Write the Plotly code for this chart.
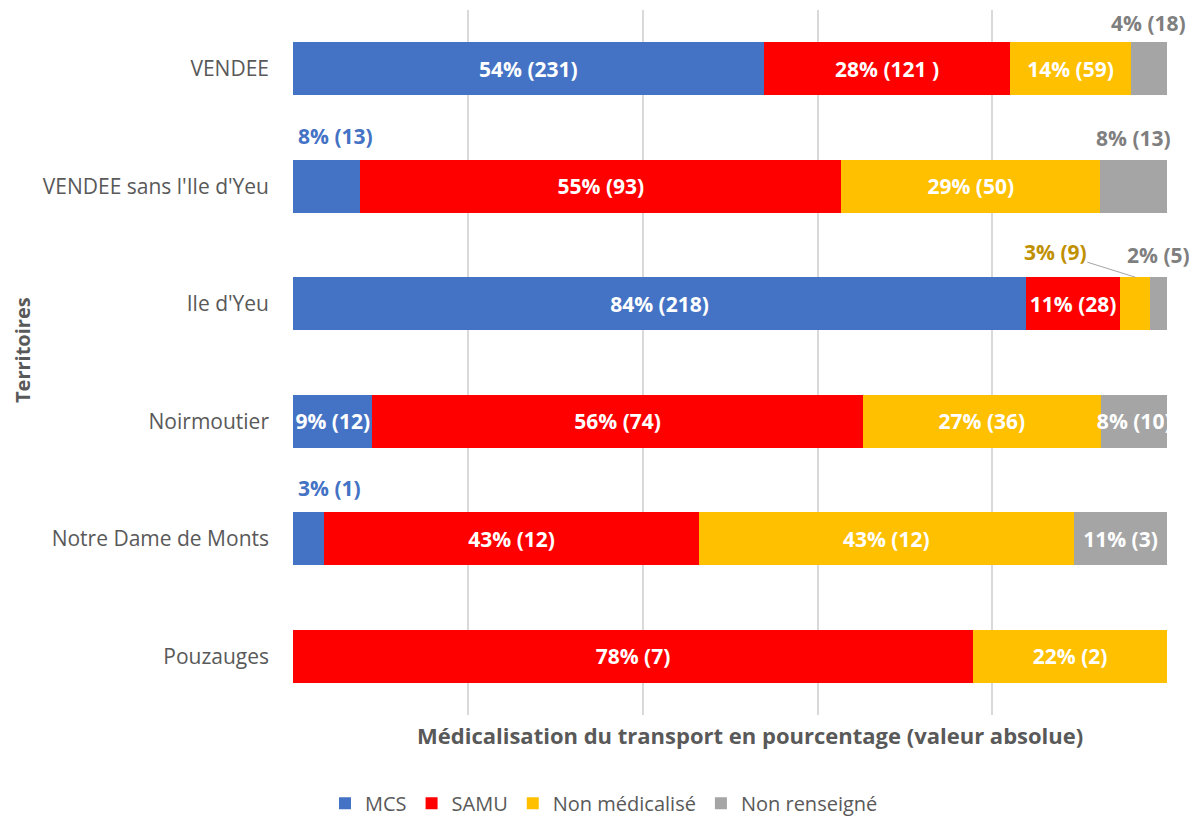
import plotly.graph_objects as go

territoires = ["VENDEE", "VENDEE sans l'Ile d'Yeu", "Ile d'Yeu", "Noirmoutier",
               "Notre Dame de Monts", "Pouzauges"]
series_names = ["MCS", "SAMU", "Non médicalisé", "Non renseigné"]
colors = ["#4472C4", "#FF0000", "#FFC000", "#A5A5A5"]

mcs = [231, 13, 218, 12, 1, 0]
samu = [121, 93, 28, 74, 12, 7]
non_med = [59, 50, 9, 36, 12, 2]
non_rens = [18, 13, 5, 10, 3, 0]

lab_mcs = ["54% (231)", "8% (13)", "84% (218)", "9% (12)", "3% (1)", ""]
lab_samu = ["28% (121 )", "55% (93)", "11% (28)", "56% (74)", "43% (12)", "78% (7)"]
lab_non_med = ["14% (59)", "29% (50)", "3% (9)", "27% (36)", "43% (12)", "22% (2)"]
lab_non_rens = ["4% (18)", "8% (13)", "2% (5)", "8% (10)", "11% (3)", ""]

# labels drawn outside the bars: (series index, row index)
outside = [(0, 1), (0, 4), (3, 0), (3, 1), (3, 2), (2, 2)]
label_colors = ["#4472C4", "#FF0000", "#BF9000", "#7F7F7F"]

values = [mcs, samu, non_med, non_rens]
labels = [lab_mcs, lab_samu, lab_non_med, lab_non_rens]

FONT = "Open Sans"
LBL = 21
fig = go.Figure()
for si, (name, vals, labs, col) in enumerate(zip(series_names, values, labels, colors)):
    txt = [("" if (si, ri) in outside else l) for ri, l in enumerate(labs)]
    fig.add_trace(go.Bar(
        y=territoires, x=vals, name=name, orientation="h",
        marker=dict(color=col, line=dict(width=0)),
        text=txt, textposition="inside", insidetextanchor="middle",
        constraintext="none",
        textfont=dict(family=FONT, size=LBL, color="white", weight="bold"),
        hoverinfo="skip",
    ))

totals = [sum(v[i] for v in values) for i in range(len(territoires))]
half = 0.226
annots = []
for si, ri in outside:
    start = sum(values[k][ri] for k in range(si)) / totals[ri] * 100
    width = values[si][ri] / totals[ri] * 100
    txt = labels[si][ri]
    fnt = dict(family=FONT, size=LBL, color=label_colors[si], weight="bold")
    if si == 0:
        annots.append(dict(x=start, y=ri - half, xref="x", yref="y", text=txt,
                           showarrow=False, xanchor="left", yanchor="bottom",
                           borderpad=0, xshift=4, yshift=9, font=fnt))
    elif (si, ri) == (2, 2):
        annots.append(dict(x=start + width / 2, y=ri - half, xref="x", yref="y", text=txt,
                           showarrow=True, arrowhead=0, arrowwidth=1, arrowcolor="#A5A5A5",
                           borderpad=0, ax=-80, ay=-25, font=fnt))
    else:
        annots.append(dict(x=start + width / 2, y=ri - half, xref="x", yref="y", text=txt,
                           showarrow=False, xanchor="center", yanchor="bottom",
                           borderpad=0, yshift=(4 if ri == 0 else 7), font=fnt))

annots.append(dict(x=(750 - 293) / 875, y=0, xref="paper", yref="paper", yanchor="top",
                   text="Médicalisation du transport en pourcentage (valeur absolue)",
                   showarrow=False, yshift=-3,
                   font=dict(family=FONT, size=22, color="#595959", weight="bold")))
annots.append(dict(x=-271 / 875, y=(715 - 350) / 705, xref="paper", yref="paper",
                   xanchor="center", yanchor="middle",
                   text="Territoires", showarrow=False, textangle=-90,
                   font=dict(family=FONT, size=20, color="#595959", weight="bold")))

# page body has an 8px margin: figure is drawn at (8, 8)
fig.update_layout(
    barmode="stack", barnorm="percent", bargap=0.549,
    width=1189, height=812,
    margin=dict(l=285, r=29, t=2, b=105, autoexpand=False),
    paper_bgcolor="white", plot_bgcolor="white",
    font=dict(family=FONT, color="#595959"),
    showlegend=True,
    legend=dict(orientation="h", x=(604 - 293) / 875, y=-0.125, xanchor="center",
                yanchor="middle",
                font=dict(family=FONT, size=20, color="#595959"),
                itemwidth=30, traceorder="normal"),
    annotations=annots,
    xaxis=dict(range=[0, 100.08], dtick=20, showgrid=True, gridcolor="#D9D9D9",
               gridwidth=1.5, showticklabels=False, zeroline=False, showline=False,
               fixedrange=True),
    yaxis=dict(autorange="reversed", showgrid=False, ticks="", ticklabelstandoff=23,
               tickfont=dict(family=FONT, size=21, color="#595959"), showline=False),
)
fig.write_html("out.html")
